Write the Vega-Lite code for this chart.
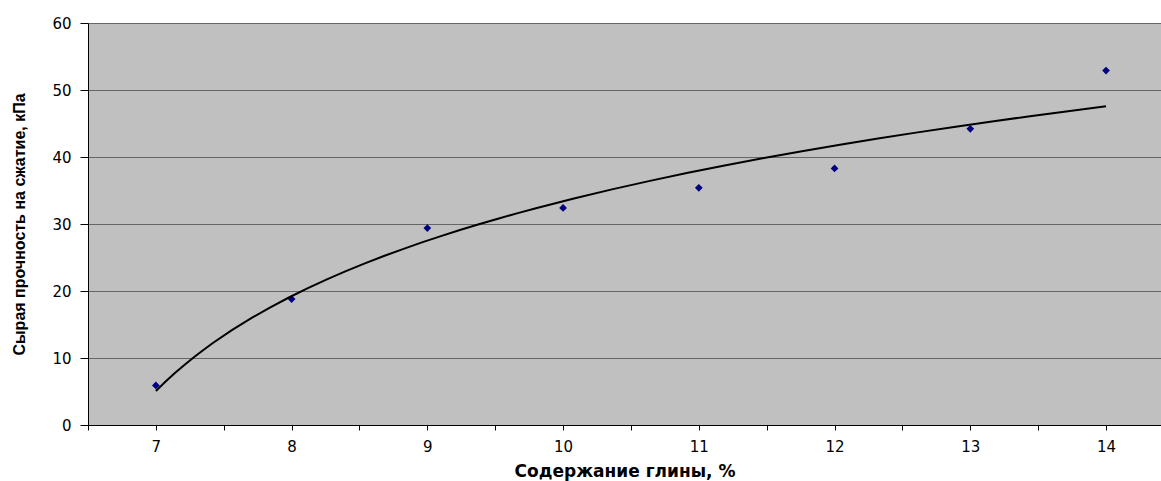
{
  "$schema": "https://vega.github.io/schema/vega-lite/v6.json",
  "autosize": "none",
  "width": 1073,
  "height": 402,
  "padding": {"left": 88, "top": 23, "right": 0, "bottom": 56},
  "background": "white",
  "config": {
    "view": {"fill": "#C0C0C0", "stroke": null},
    "axis": {"labelFont": "DejaVu Sans", "labelColor": "black", "titleColor": "black", "domainColor": "black", "tickColor": "black"}
  },
  "data": {"values": [
    {"x": 7, "idx": 1, "y": 5.9},
    {"x": 8, "idx": 2, "y": 18.8},
    {"x": 9, "idx": 3, "y": 29.4},
    {"x": 10, "idx": 4, "y": 32.4},
    {"x": 11, "idx": 5, "y": 35.4},
    {"x": 12, "idx": 6, "y": 38.3},
    {"x": 13, "idx": 7, "y": 44.2},
    {"x": 14, "idx": 8, "y": 52.9}
  ]},
  "layer": [
    {
      "mark": {"type": "point", "shape": "diamond", "filled": true, "color": "#000080", "size": 60, "opacity": 1, "clip": true},
      "encoding": {
        "x": {"field": "x", "type": "quantitative", "scale": {"domain": [6.5, 14.405], "nice": false, "zero": false},
          "axis": {"values": [6.5, 7, 7.5, 8, 8.5, 9, 9.5, 10, 10.5, 11, 11.5, 12, 12.5, 13, 13.5, 14],
            "labelExpr": "datum.value % 1 === 0 ? format(datum.value, 'd') : ''", "labelOverlap": false, "grid": false, "tickSize": 5, "labelFontSize": 15, "labelPadding": 9,
            "title": "Содержание глины, %", "titleFont": "DejaVu Sans", "titleFontWeight": "bold", "titleFontSize": 17, "titlePadding": 9}},
        "y": {"field": "y", "type": "quantitative", "scale": {"domain": [0, 60], "nice": false},
          "axis": {"values": [0, 10, 20, 30, 40, 50, 60], "grid": true, "gridColor": "#666666", "gridWidth": 1, "tickSize": 8, "labelFontSize": 15, "labelPadding": 9,
            "title": "Сырая прочность на сжатие, кПа", "titleFont": "Liberation Sans", "titleFontWeight": "bold", "titleFontSize": 16, "titlePadding": 24}}
      }
    },
    {
      "transform": [{"regression": "y", "on": "idx", "method": "log"}],
      "mark": {"type": "line", "color": "black", "strokeWidth": 2, "clip": true},
      "encoding": {
        "x": {"field": "idx", "type": "quantitative", "scale": {"domain": [0.5, 8.405], "nice": false, "zero": false}, "axis": null},
        "y": {"field": "y", "type": "quantitative", "scale": {"domain": [0, 60], "nice": false}}
      }
    }
  ],
  "resolve": {"scale": {"x": "independent"}}
}
